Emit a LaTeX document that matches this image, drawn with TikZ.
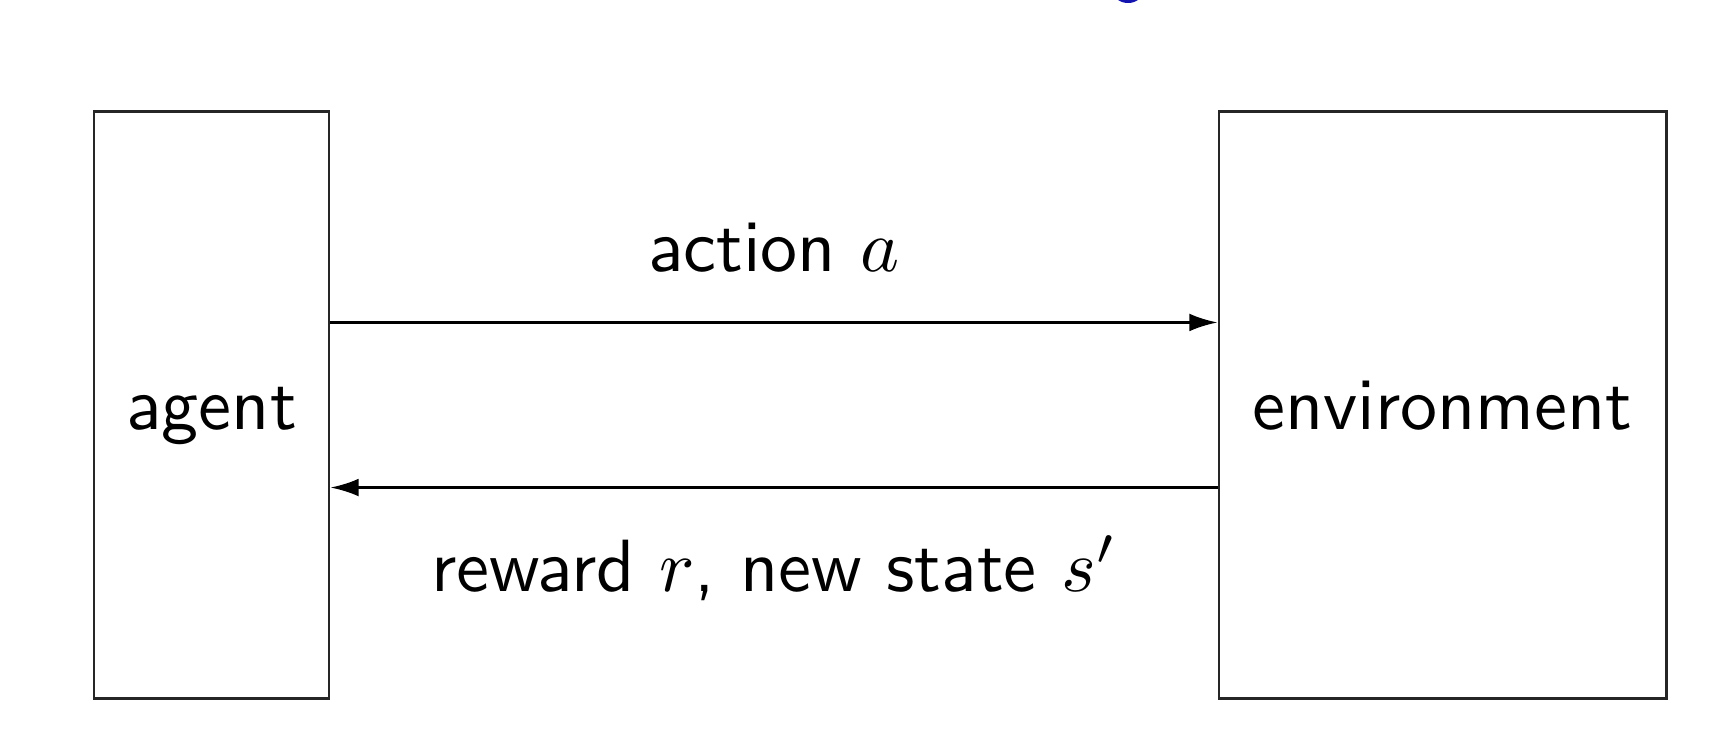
\documentclass[tikz,border=0pt]{standalone}
\usetikzlibrary{arrows.meta}
\definecolor{titleblue}{RGB}{20,20,175}
\begin{document}
\begin{tikzpicture}[x=0.1351pt,y=-0.1351pt,
  box/.style={draw=black!85,line width=0.4pt,inner sep=0pt,font=\sffamily,
    text height=7pt,text depth=0.5pt,
    minimum width=31.75pt,minimum height=79.2pt},
  arr/.style={line width=0.35pt,-{Latex[length=3.8pt,width=2.4pt]}},
  lbl/.style={font=\sffamily,anchor=base,inner sep=0pt}]
\useasboundingbox (0,0) rectangle (1732,740);
\begin{scope}
\clip (0,0) rectangle (1732,740);
\fill[titleblue] (1128,-9) ellipse (15 and 12);
\end{scope}
\node[box] (agent) at (211.5,405) {agent};
\node[box,minimum width=60.4pt] (env) at (1442.5,405) {environment};
\draw[arr] ([yshift=11.15pt]agent.east) -- ([yshift=11.15pt]env.west)
  node[lbl,pos=0.5,yshift=6.9pt] (la) {action $a$};
\draw[arr] ([yshift=-11.15pt]env.west) -- ([yshift=-11.15pt]agent.east)
  node[lbl,pos=0.5,yshift=-14.05pt] (lr) {reward $r$, new state $s'$};
\end{tikzpicture}
\end{document}
